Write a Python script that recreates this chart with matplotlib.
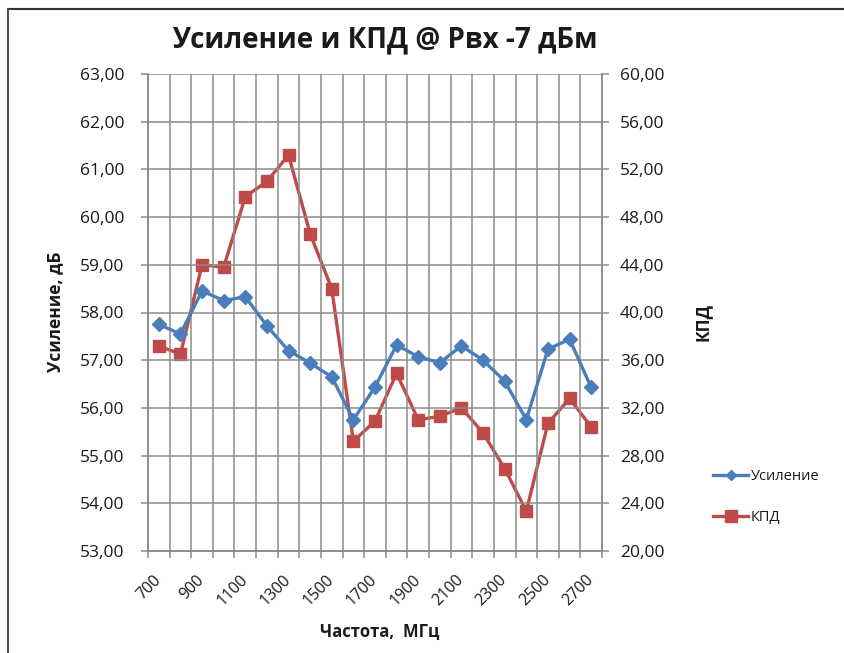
import matplotlib
matplotlib.use("Agg")
import matplotlib.pyplot as plt
from matplotlib.ticker import FuncFormatter, MultipleLocator, FixedLocator
from matplotlib.lines import Line2D

plt.rcParams['font.family'] = ['Open Sans', 'DejaVu Sans']

# частоты, МГц
freqs = [700, 800, 900, 1000, 1100, 1200, 1300, 1400, 1500, 1600, 1700,
         1800, 1900, 2000, 2100, 2200, 2300, 2400, 2500, 2600, 2700]
# усиление, дБ
gain = [57.75, 57.55, 58.45, 58.25, 58.33, 57.72, 57.20, 56.94, 56.65, 55.75, 56.44,
        57.32, 57.07, 56.95, 57.30, 57.00, 56.56, 55.75, 57.23, 57.44, 56.43]
# КПД
eff = [37.2, 36.5, 44.0, 43.8, 49.7, 51.0, 53.2, 46.6, 42.0, 29.2, 30.9,
       34.9, 31.0, 31.3, 32.0, 29.9, 26.9, 23.35, 30.7, 32.8, 30.4]

blue = '#4a7ebb'
red = '#be4b48'
grid_c = '#8c8c8c'
txt_c = '#1a1a1a'

fig = plt.figure(figsize=(8.45, 6.53), dpi=100)
ax = fig.add_axes([148/845, 1-551/653, 454/845, 477/653])
ax2 = ax.twinx()

x = list(range(len(freqs)))
ax.plot(x, gain, color=blue, lw=2.4, marker='D', ms=7.5, label='Усиление', zorder=3)
ax2.plot(x, eff, color=red, lw=2.4, marker='s', ms=8.5, label='КПД', zorder=3)

ax.set_xlim(-0.5, len(freqs) - 0.5)
ax.set_ylim(53, 63)
ax2.set_ylim(20, 60)
ax.yaxis.set_major_locator(MultipleLocator(1))
ax2.yaxis.set_major_locator(MultipleLocator(4))
fmt = FuncFormatter(lambda v, p: f'{v:.2f}'.replace('.', ','))
ax.yaxis.set_major_formatter(fmt)
ax2.yaxis.set_major_formatter(fmt)

# категории: подписи через одну, сетка по границам
ax.xaxis.set_major_locator(FixedLocator(x[::2]))
ax.set_xticklabels([str(f) for f in freqs[::2]], rotation=45, ha='right', va='center',
                   rotation_mode='anchor')
ax.xaxis.set_minor_locator(FixedLocator([i - 0.5 for i in range(len(freqs) + 1)]))
ax.tick_params(axis='x', which='major', length=0, pad=19, labelsize=11.5, labelcolor=txt_c)
ax.tick_params(axis='x', which='minor', length=5, width=1.1, color=grid_c, direction='out')
ax.grid(True, which='minor', axis='x', color=grid_c, lw=1.1)
ax.grid(True, which='major', axis='y', color=grid_c, lw=1.1)
ax.set_axisbelow(True)

ax.tick_params(axis='y', length=5, width=1.1, color=grid_c, pad=12, labelsize=12.5, labelcolor=txt_c)
ax2.tick_params(axis='y', length=5, width=1.1, color=grid_c, pad=8, labelsize=12.5, labelcolor=txt_c)

for a in (ax, ax2):
    for s in a.spines.values():
        s.set_color(grid_c)
        s.set_linewidth(1.1)
    a.spines['top'].set_visible(False)

ax.set_zorder(ax2.get_zorder() + 1)
ax.patch.set_visible(False)

fig.text(385/845, 1-40/653, 'Усиление и КПД @ Pвх -7 дБм', ha='center', va='center',
         fontsize=20, fontweight='bold', color=txt_c)
fig.text(55/845, 1-312/653, 'Усиление, дБ', rotation=90, ha='center', va='center',
         fontsize=12.5, fontweight='bold', color=txt_c)
fig.text(703/845, 1-322/653, 'КПД', rotation=90, ha='center', va='center',
         fontsize=12.5, fontweight='bold', color=txt_c)
fig.text(380/845, 1-632/653, 'Частота,  МГц', ha='center', va='center',
         fontsize=12, fontweight='bold', color=txt_c)

handles = [Line2D([], [], color=blue, lw=2.4, marker='D', ms=5.5),
           Line2D([], [], color=red, lw=2.4, marker='s', ms=8.5)]
fig.legend(handles, ['Усиление', 'КПД'], loc='center left',
           bbox_to_anchor=(700/845, 1-497/653), frameon=False, fontsize=10.5,
           handlelength=2.4, handletextpad=0.2, labelspacing=1.8, labelcolor=txt_c)

# рамка области диаграммы (обрезанная)
fig.add_artist(Line2D([8/845, 1], [1-9/653, 1-9/653], color='#333333', lw=1.5))
fig.add_artist(Line2D([8/845, 8/845], [0, 1-9/653], color='#555555', lw=1.5))

fig.savefig('out.png', dpi=100)
